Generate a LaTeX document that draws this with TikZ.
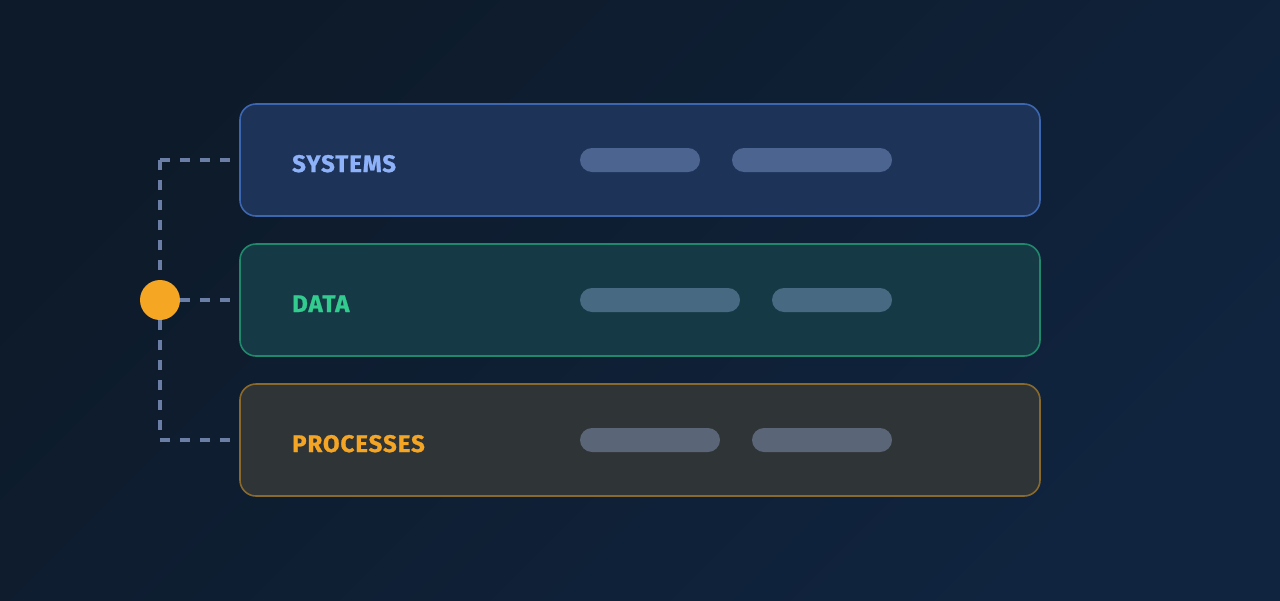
\documentclass[tikz,border=0pt]{standalone}
\usepackage{fontspec}
\setmainfont{Fira Sans}
\newfontfamily\labfont[LetterSpace=4, FakeBold=1]{Fira Sans Bold}
\definecolor{bgA}{HTML}{0D1A29}
\definecolor{bgB}{HTML}{10243F}
\definecolor{sysfill}{HTML}{1E3358}
\definecolor{sysline}{HTML}{3D66B0}
\definecolor{systext}{HTML}{8DB2FA}
\definecolor{syspill}{HTML}{4C6590}
\definecolor{datfill}{HTML}{153A45}
\definecolor{datline}{HTML}{21896B}
\definecolor{dattext}{HTML}{32CC8E}
\definecolor{datpill}{HTML}{476A82}
\definecolor{profill}{HTML}{2F3436}
\definecolor{proline}{HTML}{8A6A2C}
\definecolor{protext}{HTML}{F5A524}
\definecolor{propill}{HTML}{5A6578}
\definecolor{linkcol}{HTML}{6B7EA6}
\definecolor{hubcol}{HTML}{F5A623}
\tikzset{
  layerbox/.style={draw=#1line, fill=#1fill, line width=1.6pt, rounded corners=16pt},
  pill/.style={fill=#1pill, rounded corners=12pt},
  layerlabel/.style={anchor=base west, inner sep=0pt, text=#1text, font=\labfont\fontsize{24}{24}\selectfont},
  link/.style={draw=linkcol, line width=3.5pt, dash pattern=on 10pt off 10pt},
  hub/.style={circle, fill=hubcol, minimum size=40pt, inner sep=0pt}
}
\begin{document}
\begin{tikzpicture}[x=1pt,y=-1pt]
\useasboundingbox (0,0) rectangle (1280,600);
\shade[top color=bgA, bottom color=bgB, shading angle=45] (0,0) rectangle (1280,600);
% layers
\path[layerbox=sys] (240,104) rectangle (1040,216);
\path[layerbox=dat] (240,244) rectangle (1040,356);
\path[layerbox=pro] (240,384) rectangle (1040,496);
% labels
\node[layerlabel=sys] (syslab) at (292,172) {SYSTEMS};
\node[layerlabel=dat] (datlab) at (292,312) {DATA};
\node[layerlabel=pro] (prolab) at (292,452) {PROCESSES};
% pills
\path[pill=sys] (580,148) rectangle (700,172);
\path[pill=sys] (732,148) rectangle (892,172);
\path[pill=dat] (580,288) rectangle (740,312);
\path[pill=dat] (772,288) rectangle (892,312);
\path[pill=pro] (580,428) rectangle (720,452);
\path[pill=pro] (752,428) rectangle (892,452);
% connectors
\coordinate (c1) at (160,160);
\coordinate (c2) at (160,300);
\coordinate (c3) at (160,440);
\coordinate (e1) at (230,160);
\coordinate (e2) at (230,300);
\coordinate (e3) at (230,440);
\path[link] (c1) -- (e1);
\path[link] (c1) -- (c3) -- (e3);
\path[link] (c2) -- (e2);
\node[hub] (hub) at (c2) {};
\end{tikzpicture}
\end{document}
